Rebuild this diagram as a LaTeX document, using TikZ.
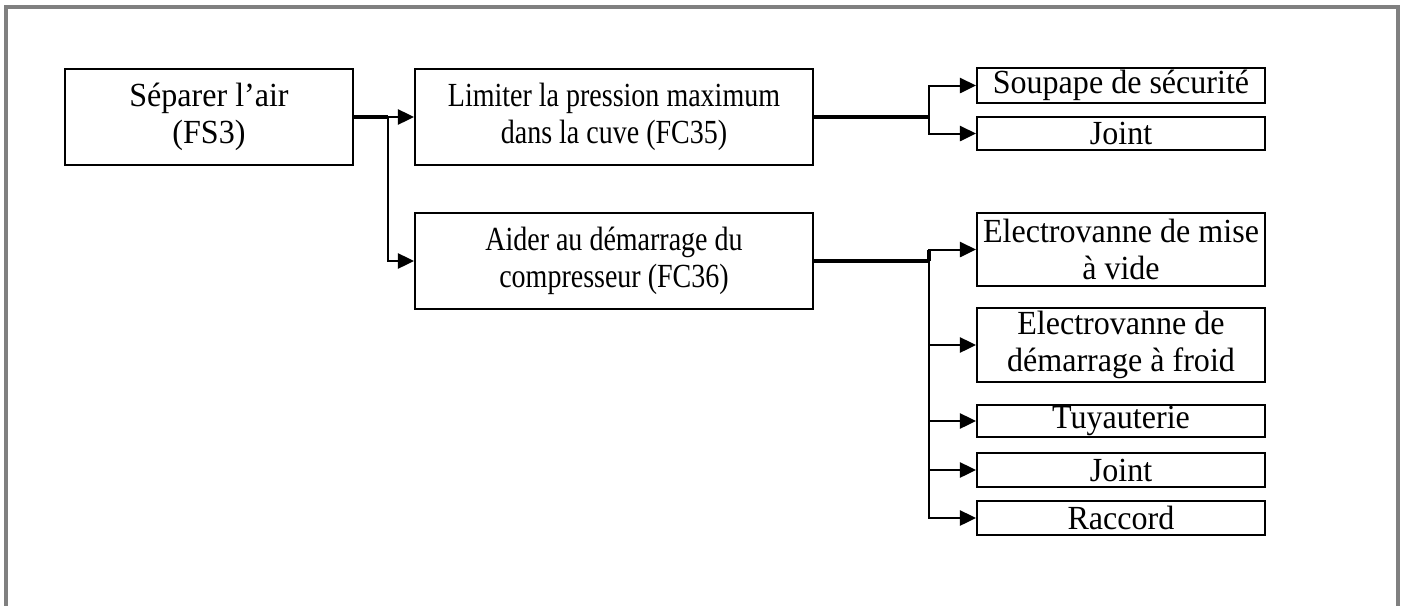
\documentclass[tikz,border=0pt]{standalone}
\usepackage{fontspec}
\setmainfont[FakeStretch=0.95]{Liberation Serif}
\newfontfamily\narrowserif[FakeStretch=0.83]{Liberation Serif}
\usepackage{tikz}
\usetikzlibrary{arrows.meta, positioning, calc}
\definecolor{myframe}{RGB}{128,128,128}
\definecolor{mydark}{RGB}{0,0,0}
\tikzset{
  block/.style={rectangle, draw=mydark, fill=white, align=center,
    inner sep=0pt, line width=0.75pt,
    font=\fontsize{12}{13}\selectfont},
  bigblock/.style={block, minimum height=1.2cm},
  midblock/.style={bigblock, minimum width=4.975cm,
    font=\narrowserif\fontsize{12}{13}\selectfont},
  leaf/.style={block, minimum width=3.6cm},
  arrow/.style={-{Triangle[length=2mm, width=1.9mm]}, line width=0.7pt, color=mydark},
  line/.style={line width=1.1pt, color=mydark}
}
\begin{document}
\begin{tikzpicture}
  \useasboundingbox (0,0) rectangle (17.55,-7.5625);
  % Frame
  \draw[myframe, line width=1.4pt] (0.075,-7.6) -- (0.075,-0.085) -- (17.475,-0.085) -- (17.475,-7.6);
  % Functions
  \node[bigblock, minimum width=3.6cm] (fs3) at (2.6125,-1.4625) {Séparer l’air\\(FS3)};
  \node[midblock] (fc35) at (7.675,-1.4625) {Limiter la pression maximum\\dans la cuve (FC35)};
  \node[midblock] (fc36) at (7.675,-3.2625) {Aider au démarrage du\\compresseur (FC36)};
  % Solutions
  \node[leaf, minimum height=0.4375cm] (soupape) at (14.0125,-1.069) {Soupape de sécurité};
  \node[leaf, minimum height=0.4125cm] (joint1) at (14.0125,-1.669) {Joint};
  \node[leaf, minimum height=0.9125cm] (ev1) at (14.0125,-3.119) {Electrovanne de mise\\à vide};
  \node[leaf, minimum height=0.925cm] (ev2) at (14.0125,-4.3125) {Electrovanne de\\démarrage à froid};
  \node[leaf, minimum height=0.4cm] (tuyau) at (14.0125,-5.2625) {Tuyauterie};
  \node[leaf, minimum height=0.425cm] (joint2) at (14.0125,-5.875) {Joint};
  \node[leaf, minimum height=0.425cm] (raccord) at (14.0125,-6.475) {Raccord};
  % Junctions
  \coordinate (j1) at (4.85,-1.4625);
  \coordinate (j2) at (11.6125,-1.4625);
  \coordinate (j3) at (11.6125,-3.2625);
  % Links
  \draw[line] (fs3.east) -- (j1);
  \draw[arrow] (j1) -- (fc35.west);
  \draw[arrow] (j1) |- (fc36.west);
  \draw[line] (fc35.east) -- (j2);
  \draw[arrow] (j2) |- (soupape.west);
  \draw[arrow] (j2) |- (joint1.west);
  \draw[line] (fc36.east) -- (j3);
  \draw[line] (j3) -- (j3 |- ev1.west);
  \draw[arrow] (j3) |- (ev1.west);
  \foreach \n in {ev2, tuyau, joint2, raccord}
    \draw[arrow] (j3) |- (\n.west);
\end{tikzpicture}
\end{document}
